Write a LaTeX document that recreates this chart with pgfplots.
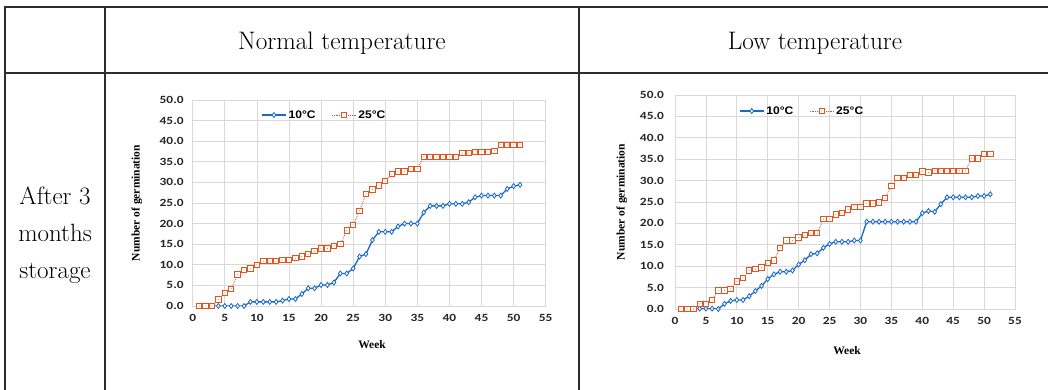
\documentclass[border=0pt]{standalone}
\usepackage{fontspec}
\usepackage{pgfplots}
\pgfplotsset{compat=1.18}
\newfontfamily\ticksf[FakeStretch=1.22]{Carlito}
\newfontfamily\labsf{Liberation Serif}
\newfontfamily\legsf[FakeStretch=1.1]{Liberation Sans}
\definecolor{cblue}{RGB}{25,105,200}
\definecolor{corange}{RGB}{226,84,32}
\definecolor{gridc}{RGB}{217,217,217}
\definecolor{tline}{RGB}{45,45,45}
\pgfdeclareplotmark{sqdot}{%
  \pgfpathrectangle{\pgfpoint{-\pgfplotmarksize}{-\pgfplotmarksize}}{\pgfpoint{2\pgfplotmarksize}{2\pgfplotmarksize}}%
  \pgfusepathqfillstroke
  \begin{pgfscope}\pgfsetfillcolor{corange}%
  \pgfpathcircle{\pgfpointorigin}{0.45pt}\pgfusepathqfill\end{pgfscope}}
\pgfplotsset{
  germ/.style={
    scale only axis,
    xmin=0, xmax=55, ymin=0, ymax=50,
    xtick={0,5,...,55}, ytick={0,5,...,50},
    grid=major, major grid style={gridc, line width=0.7pt},
    axis line style={gridc, line width=0.7pt},
    major tick length=0pt,
    /pgf/number format/assume math mode=true,
    yticklabel style={/pgf/number format/fixed, /pgf/number format/fixed zerofill, /pgf/number format/precision=1},
    ticklabel style={font=\ticksf\bfseries\fontsize{11}{12}\selectfont, text=black!85},
    xticklabel style={yshift=-4.5pt},
    label style={font=\labsf\bfseries\fontsize{11.5}{13}\selectfont},
    xlabel={Week}, ylabel={Number of germination},
    legend columns=2,
    legend style={draw=none, fill=none, font=\legsf\bfseries\fontsize{11}{12}\selectfont,
      /tikz/every even column/.append style={column sep=14pt}},
    legend image code/.code={\draw[mark repeat=2, mark phase=2] plot coordinates {(0pt,0pt) (12pt,0pt) (24pt,0pt)};},
  },
  s10/.style={cblue, line width=1.3pt, mark=diamond*, mark size=2.5pt, mark options={solid, draw=cblue, fill=white, line width=0.8pt}},
  s25/.style={corange, line width=0.8pt, densely dotted, mark=sqdot, mark size=2.7pt, mark options={solid, draw=corange, fill=white, line width=0.9pt}},
}
\begin{document}
\begin{tikzpicture}[x=1pt, y=1pt]
\useasboundingbox (0pt,0pt) rectangle (1048pt,390pt);
% table lines
\draw[tline, line width=2pt] (5pt,383pt) -- (1048pt,383pt);
\draw[tline, line width=2pt] (5pt,317pt) -- (1048pt,317pt);
\draw[tline, line width=2pt] (5pt,384pt) -- (5pt,0pt);
\draw[tline, line width=2pt] (105pt,384pt) -- (105pt,0pt);
\draw[tline, line width=2pt] (579pt,384pt) -- (579pt,0pt);
% headers
\node[anchor=base] at (342pt,340pt) {\fontsize{25.3}{29}\selectfont Normal temperature};
\node[anchor=base] at (815pt,340pt) {\fontsize{25.3}{29}\selectfont Low temperature};
\node[anchor=base] at (55pt,185pt) {\fontsize{25}{29}\selectfont After 3};
\node[anchor=base] at (55pt,148pt) {\fontsize{25}{29}\selectfont months};
\node[anchor=base] at (55pt,111pt) {\fontsize{25}{29}\selectfont storage};
% left chart
\begin{axis}[germ, at={(192.7pt,84pt)}, anchor=south west, width=353pt, height=206pt,
  yticklabel style={xshift=-5.5pt},
  xlabel style={at={(axis description cs:0.508,-0.189)}, anchor=center},
  ylabel style={at={(axis description cs:-0.158,0.5)}, anchor=center},
  legend style={at={(0.373,0.927)}, anchor=center}]
\addplot[s10] coordinates {(1,0)(2,0)(3,0)(4,0)(5,0)(6,0)(7,0)(8,0)(9,1.0)(10,1.0)(11,1.0)(12,1.0)(13,1.0)(14,1.3)(15,1.7)(16,1.7)(17,2.9)(18,4.3)(19,4.3)(20,5.1)(21,5.1)(22,5.7)(23,7.9)(24,7.9)(25,9.1)(26,12.0)(27,12.6)(28,16.0)(29,18.0)(30,18.0)(31,18.0)(32,19.3)(33,20.0)(34,20.0)(35,20.0)(36,22.7)(37,24.3)(38,24.3)(39,24.3)(40,24.8)(41,24.8)(42,24.8)(43,25.2)(44,26.4)(45,26.8)(46,26.8)(47,26.8)(48,26.8)(49,28.4)(50,29.1)(51,29.4)};
\addlegendentry{10°C}
\addplot[s25] coordinates {(1,0)(2,0)(3,0)(4,1.6)(5,3.2)(6,4.2)(7,7.7)(8,8.7)(9,9.1)(10,10.0)(11,10.9)(12,10.9)(13,10.9)(14,11.2)(15,11.2)(16,11.6)(17,12.0)(18,12.6)(19,13.3)(20,14.0)(21,14.0)(22,14.6)(23,15.0)(24,18.3)(25,19.7)(26,23.1)(27,27.2)(28,28.3)(29,29.3)(30,30.3)(31,32.0)(32,32.7)(33,32.7)(34,33.3)(35,33.3)(36,36.2)(37,36.2)(38,36.2)(39,36.2)(40,36.2)(41,36.2)(42,37.1)(43,37.1)(44,37.4)(45,37.4)(46,37.4)(47,37.7)(48,39.1)(49,39.1)(50,39.1)(51,39.1)};
\addlegendentry{25°C}
\end{axis}
% right chart
\begin{axis}[germ, at={(675pt,81pt)}, anchor=south west, width=340pt, height=214pt,
  yticklabel style={xshift=-7.5pt},
  xlabel style={at={(axis description cs:0.506,-0.196)}, anchor=center},
  ylabel style={at={(axis description cs:-0.156,0.5)}, anchor=center},
  legend style={at={(0.374,0.925)}, anchor=center}]
\addplot[s10] coordinates {(1,0)(2,0)(3,0)(4,0.1)(5,0.1)(6,0.1)(7,0)(8,1.2)(9,1.9)(10,2.1)(11,2.1)(12,3.0)(13,4.2)(14,5.4)(15,7.0)(16,8.1)(17,8.7)(18,8.7)(19,9.0)(20,10.4)(21,11.4)(22,12.8)(23,13.0)(24,14.3)(25,15.2)(26,15.7)(27,15.7)(28,15.7)(29,16.0)(30,16.0)(31,20.4)(32,20.4)(33,20.4)(34,20.4)(35,20.4)(36,20.4)(37,20.4)(38,20.4)(39,20.4)(40,22.4)(41,22.9)(42,22.7)(43,24.5)(44,26.1)(45,26.1)(46,26.1)(47,26.1)(48,26.1)(49,26.4)(50,26.4)(51,26.8)};
\addlegendentry{10°C}
\addplot[s25] coordinates {(1,0)(2,0)(3,0)(4,1.2)(5,1.2)(6,2.1)(7,4.3)(8,4.3)(9,4.7)(10,6.4)(11,7.3)(12,9.0)(13,9.3)(14,9.7)(15,10.7)(16,11.3)(17,14.3)(18,16.0)(19,16.0)(20,16.7)(21,17.3)(22,17.7)(23,17.7)(24,21.0)(25,21.0)(26,22.1)(27,22.4)(28,23.3)(29,23.9)(30,23.9)(31,24.7)(32,24.7)(33,24.9)(34,25.9)(35,28.7)(36,30.6)(37,30.6)(38,31.3)(39,31.3)(40,32.1)(41,31.9)(42,32.3)(43,32.3)(44,32.3)(45,32.3)(46,32.3)(47,32.3)(48,35.2)(49,35.2)(50,36.2)(51,36.2)};
\addlegendentry{25°C}
\end{axis}
\end{tikzpicture}
\end{document}
